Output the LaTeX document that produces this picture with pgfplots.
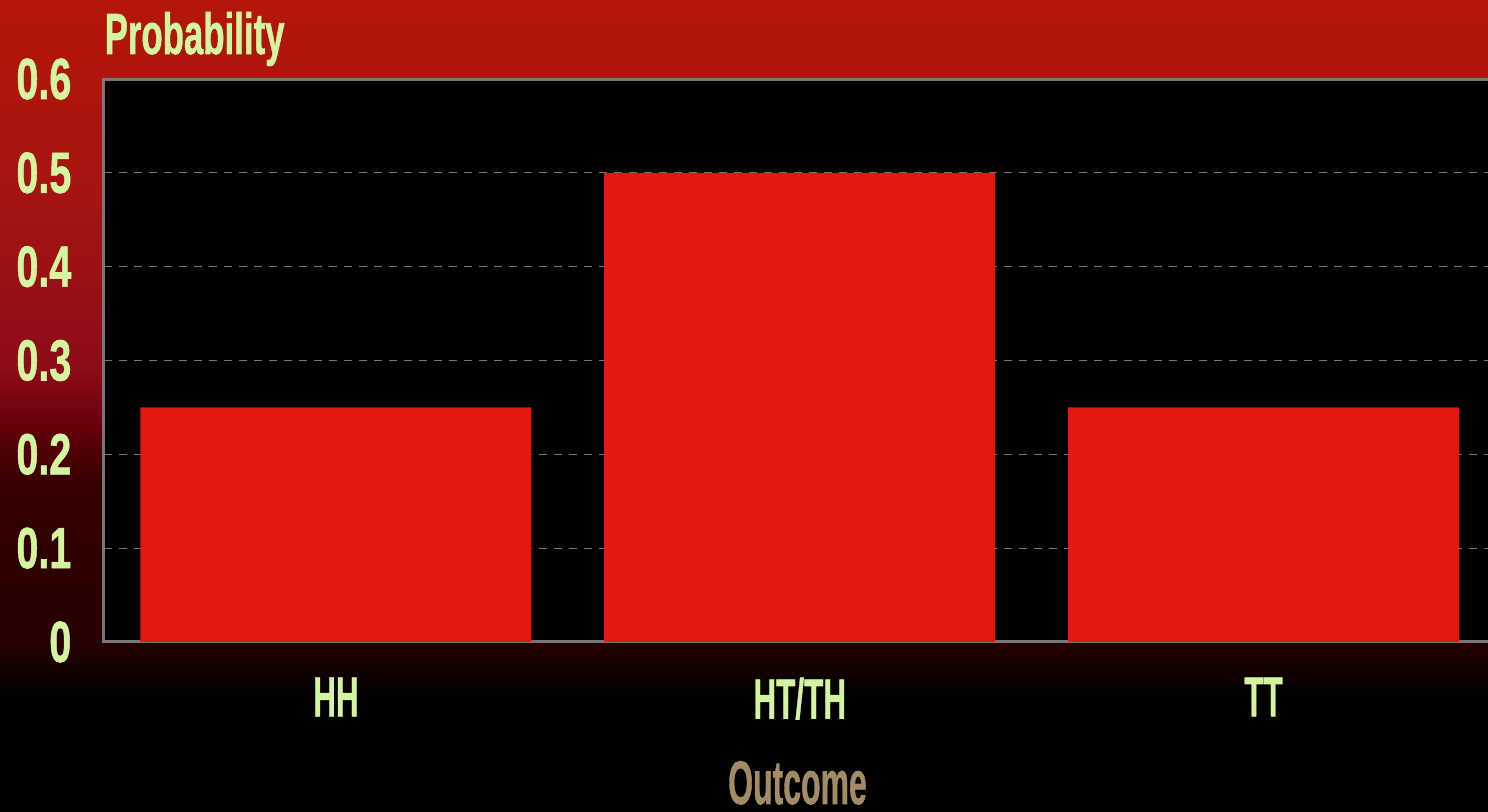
\documentclass[border=0pt]{standalone}
\usepackage{fontspec}
\setmainfont{Liberation Sans}[BoldFeatures={FakeBold=1.2}]
\usepackage{graphicx}
\usepackage{pgfplots}
\pgfplotsset{compat=1.18}
\definecolor{bgA}{RGB}{180,22,10}
\definecolor{bgB}{RGB}{165,20,18}
\definecolor{bgC}{RGB}{140,12,25}
\definecolor{bgD}{RGB}{105,0,12}
\definecolor{bgE}{RGB}{55,0,0}
\definecolor{bgF}{RGB}{40,0,0}
\definecolor{barred}{RGB}{228,24,16}
\definecolor{tgreen}{RGB}{212,245,160}
\definecolor{ttan}{RGB}{163,139,99}
\definecolor{axgray}{RGB}{120,120,120}
\pgfdeclareverticalshading{bgshade}{100bp}{color(0bp)=(black); color(25bp)=(black); color(31.9bp)=(black); color(35.6bp)=(bgF); color(45.4bp)=(bgE); color(49.1bp)=(bgD); color(52.2bp)=(bgC); color(62.7bp)=(bgB); color(75bp)=(bgA); color(100bp)=(bgA)}
\begin{document}
\begin{tikzpicture}
\path[use as bounding box] (0,0) rectangle (14.88,8.12);
\clip (0,0) rectangle (14.88,8.12);
\shade[shading=bgshade] (0,0) rectangle (14.88,8.12);
\begin{axis}[
  scale only axis, width=13.915cm, height=5.63cm,
  at={(1.04cm,1.70cm)}, anchor=south west,
  xmin=-0.5, xmax=2.5, ymin=0, ymax=0.6,
  ybar, bar width=3.91cm,
  xtick={0,1,2},
  xticklabels={{\scalebox{0.56}[1]{HH}},{\scalebox{0.56}[1]{HT/TH}},{\scalebox{0.56}[1]{TT}}},
  ytick={0,0.1,0.2,0.3,0.4,0.5,0.6},
  /pgf/number format/assume math mode=true,
  yticklabel={\scalebox{0.68}[1]{\pgfmathprintnumber[fixed,precision=1]{\tick}}},
  major tick length=0,
  axis background/.style={fill=black},
  axis line style={draw=axgray, line width=0.03cm},
  ymajorgrids,
  major grid style={draw=axgray, dash pattern=on 0.08cm off 0.07cm, line width=0.012cm},
  yticklabel style={anchor=east, inner sep=0pt, xshift=-0.32cm, text=tgreen, font=\bfseries\fontsize{16.5}{18}\selectfont},
  xticklabel style={anchor=north, inner sep=0pt, yshift=-0.35cm, text=tgreen, font=\bfseries\fontsize{16}{18}\selectfont},
]
\addplot[fill=barred, draw=none] coordinates {(0,0.25) (1,0.5) (2,0.25)};
\end{axis}
\node[anchor=base west, inner sep=0pt, text=tgreen, font=\bfseries\fontsize{16.5}{18}\selectfont] at (1.04,7.58) {\scalebox{0.6}[1]{Probability}};
\node[anchor=base, inner sep=0pt, text=ttan, font=\bfseries\fontsize{17.5}{20}\selectfont] at (7.975,0.08) {\scalebox{0.52}[1]{Outcome}};
\end{tikzpicture}
\end{document}
